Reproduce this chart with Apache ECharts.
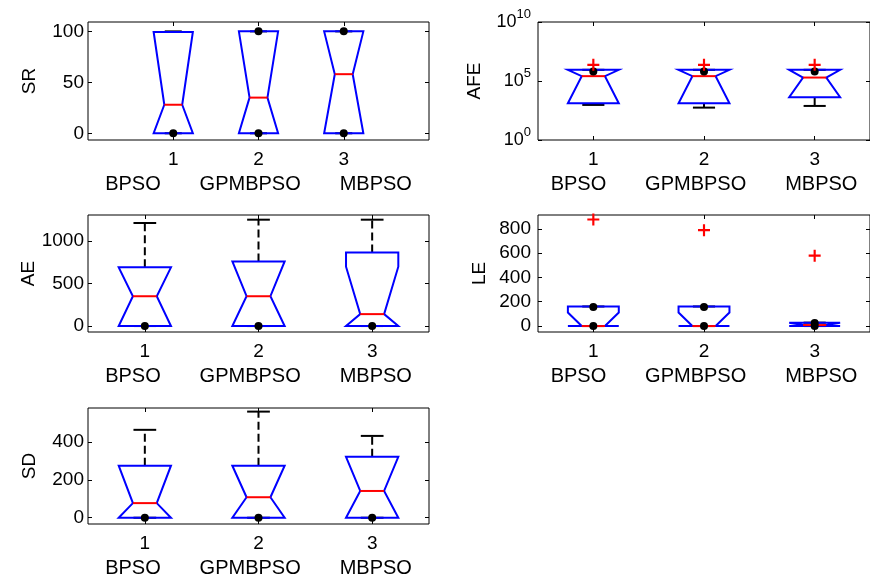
<!DOCTYPE html>
<html>
<head>
<meta charset="utf-8">
<script src="https://cdn.jsdelivr.net/npm/echarts@6/dist/echarts.min.js"></script>
<style>
html, body { margin: 0; padding: 0; background: #fff; }
#chart { width: 870px; height: 579px; }
</style>
</head>
<body>
<div id="chart"></div>
<script>
// Groups and their box positions
const categories = ['BPSO', 'GPMBPSO', 'MBPSO'];
const positions = [1, 2, 3];

// SR: success rate
const srQ1 = [0, 0, 0];
const srMedian = [28, 35, 58];
const srQ3 = [99.4, 100, 100];
const srNotchLo = [0, 0, 0];
const srNotchHi = [99.4, 100, 100];
const srWhiskerLo = [0, 0, 0];
const srWhiskerHi = [100, 100, 100];
const srDots = [[0], [0, 100], [0, 100]];
const srOutliers = [[], [], []];
const srTicks = [0, 50, 100];

// AFE: average function evaluations (log scale)
const afeQ1 = [1310, 1310, 4250];
const afeMedian = [2.58e5, 2.58e5, 1.96e5];
const afeQ3 = [8.85e5, 8.85e5, 8.85e5];
const afeNotchLo = [1310, 1310, 4250];
const afeNotchHi = [8.85e5, 8.85e5, 8.85e5];
const afeWhiskerLo = [940, 555, 770];
const afeWhiskerHi = [8.85e5, 8.85e5, 8.85e5];
const afeDots = [[6.3e5], [6.3e5], [6.3e5]];
const afeOutliers = [[2.35e6], [2.35e6], [2.35e6]];
const afeTicks = [1, 1e5, 1e10];

// AE: average error
const aeQ1 = [0, 0, 0];
const aeMedian = [350, 350, 140];
const aeQ3 = [689, 759, 864];
const aeNotchLo = [0, 0, 0];
const aeNotchHi = [689, 759, 697];
const aeWhiskerLo = [0, 0, 0];
const aeWhiskerHi = [1210, 1249, 1249];
const aeDots = [[0], [0], [0]];
const aeOutliers = [[], [], []];
const aeTicks = [0, 500, 1000];

// LE: least error
const leQ1 = [0, 0, 0];
const leMedian = [0, 0, 8];
const leQ3 = [161, 161, 28];
const leNotchLo = [0, 0, 0];
const leNotchHi = [111, 111, 28];
const leWhiskerLo = [0, 0, 0];
const leWhiskerHi = [161, 161, 28];
const leDots = [[156, 0], [156, 0], [25, 0]];
const leOutliers = [[877], [789], [579]];
const leTicks = [0, 200, 400, 600, 800];

// SD: standard deviation
const sdQ1 = [0, 0, 0];
const sdMedian = [77, 108, 141];
const sdQ3 = [274, 274, 321];
const sdNotchLo = [0, 0, 0];
const sdNotchHi = [274, 274, 321];
const sdWhiskerLo = [0, 0, 0];
const sdWhiskerHi = [463, 559, 431];
const sdDots = [[0], [0], [0]];
const sdOutliers = [[], [], []];
const sdTicks = [0, 200, 400];

const FONT = "'Liberation Sans', Arial, Helvetica, sans-serif";
const FS = 19;
const xLabelText = categories.join(' '.repeat(7));

// Panel layout (pixel rectangles of each axes box) and axis ranges
const panels = [
  { name: 'SR',  grid: { left: 88,  top: 22,  width: 341, height: 118 }, xlim: [0, 4],     ylim: [-6.6, 109.2], log: false, ticks: srTicks,
    q1: srQ1, med: srMedian, q3: srQ3, nLo: srNotchLo, nHi: srNotchHi, wLo: srWhiskerLo, wHi: srWhiskerHi, dots: srDots, out: srOutliers, nameGap: 49, labelMargin: 4 },
  { name: 'AFE', grid: { left: 538, top: 22,  width: 342, height: 118 }, xlim: [0.5, 3.5], ylim: [1, 1e10],      log: true,  ticks: afeTicks,
    q1: afeQ1, med: afeMedian, q3: afeQ3, nLo: afeNotchLo, nHi: afeNotchHi, wLo: afeWhiskerLo, wHi: afeWhiskerHi, dots: afeDots, out: afeOutliers, nameGap: 54, labelMargin: 7 },
  { name: 'AE',  grid: { left: 88,  top: 215, width: 341, height: 117 }, xlim: [0.5, 3.5], ylim: [-70, 1304],    log: false, ticks: aeTicks,
    q1: aeQ1, med: aeMedian, q3: aeQ3, nLo: aeNotchLo, nHi: aeNotchHi, wLo: aeWhiskerLo, wHi: aeWhiskerHi, dots: aeDots, out: aeOutliers, nameGap: 50, labelMargin: 4 },
  { name: 'LE',  grid: { left: 538, top: 215, width: 342, height: 117 }, xlim: [0.5, 3.5], ylim: [-49, 914],     log: false, ticks: leTicks,
    q1: leQ1, med: leMedian, q3: leQ3, nLo: leNotchLo, nHi: leNotchHi, wLo: leWhiskerLo, wHi: leWhiskerHi, dots: leDots, out: leOutliers, nameGap: 49, labelMargin: 7 },
  { name: 'SD',  grid: { left: 88,  top: 408, width: 341, height: 117 }, xlim: [0.5, 3.5], ylim: [-33, 578],     log: false, ticks: sdTicks,
    q1: sdQ1, med: sdMedian, q3: sdQ3, nLo: sdNotchLo, nHi: sdNotchHi, wLo: sdWhiskerLo, wHi: sdWhiskerHi, dots: sdDots, out: sdOutliers, nameGap: 49, labelMargin: 4 }
];

const BOX_HALF = 0.23;    // half box width, in x units
const NOTCH_HALF = 0.105; // half width at the notch waist
const CAP_HALF = 0.1;     // half whisker-cap width

function renderBox(params, api) {
  const x = api.value(0);
  const q1 = api.value(1), med = api.value(2), q3 = api.value(3);
  const nLo = Math.max(api.value(4), q1), nHi = Math.min(api.value(5), q3);
  const wLo = api.value(6), wHi = api.value(7);
  const P = (dx, v) => api.coord([x + dx, v]);
  const seg = (a, b) => ({ x1: a[0], y1: a[1], x2: b[0], y2: b[1] });
  const children = [];
  const dash = { stroke: '#000', lineWidth: 2, lineDash: [8, 4], fill: null };
  const solid = { stroke: '#000', lineWidth: 2, fill: null };
  if (wHi > q3) children.push({ type: 'line', shape: seg(P(0, q3), P(0, wHi)), style: dash });
  if (wLo < q1) children.push({ type: 'line', shape: seg(P(0, q1), P(0, wLo)), style: dash });
  children.push({ type: 'line', shape: seg(P(-CAP_HALF, wHi), P(CAP_HALF, wHi)), style: solid });
  children.push({ type: 'line', shape: seg(P(-CAP_HALF, wLo), P(CAP_HALF, wLo)), style: solid });
  children.push({
    type: 'polygon',
    shape: { points: [
      P(-BOX_HALF, q3), P(-BOX_HALF, nHi), P(-NOTCH_HALF, med), P(-BOX_HALF, nLo), P(-BOX_HALF, q1),
      P(BOX_HALF, q1), P(BOX_HALF, nLo), P(NOTCH_HALF, med), P(BOX_HALF, nHi), P(BOX_HALF, q3)
    ] },
    style: { fill: null, stroke: '#0000ff', lineWidth: 2, lineJoin: 'miter' }
  });
  children.push({ type: 'line', shape: seg(P(-NOTCH_HALF, med), P(NOTCH_HALF, med)), style: { stroke: '#ff0000', lineWidth: 2 } });
  return { type: 'group', children };
}

function supLabel(v) {
  const e = Math.round(Math.log10(v));
  return '{b|10}{s|' + e + '}';
}

const grids = [], xAxes = [], yAxes = [], series = [];
panels.forEach((p, i) => {
  grids.push(Object.assign({ show: true, borderColor: '#000', borderWidth: 1, backgroundColor: 'transparent', containLabel: false }, p.grid));
  const tick = { show: true, inside: true, length: 4, lineStyle: { color: '#000', width: 1 } };
  xAxes.push({
    gridIndex: i, type: 'value', min: p.xlim[0], max: p.xlim[1], position: 'bottom',
    axisLine: { show: false, onZero: false }, splitLine: { show: false },
    axisTick: Object.assign({ customValues: positions }, tick),
    axisLabel: { customValues: positions, color: '#000', fontSize: FS, fontFamily: FONT, margin: 10, formatter: v => String(v) },
    name: xLabelText, nameLocation: 'middle', nameGap: 34,
    nameTextStyle: { color: '#000', fontSize: 20, fontFamily: FONT, verticalAlign: 'top' }
  });
  xAxes.push({
    gridIndex: i, type: 'value', min: p.xlim[0], max: p.xlim[1], position: 'top',
    axisLine: { show: false, onZero: false }, splitLine: { show: false },
    axisTick: Object.assign({ customValues: positions }, tick), axisLabel: { show: false }
  });
  const yBase = p.log ? { type: 'log', logBase: 10 } : { type: 'value' };
  const yLabel = { customValues: p.ticks, color: '#000', fontSize: FS, fontFamily: FONT, margin: p.labelMargin, formatter: v => String(v) };
  if (p.log) {
    yLabel.formatter = supLabel;
    yLabel.rich = {
      b: { fontSize: 18, fontFamily: FONT, color: '#000', height: 30, lineHeight: 30, verticalAlign: 'middle' },
      s: { fontSize: 13, fontFamily: FONT, color: '#000', height: 15, lineHeight: 15, verticalAlign: 'top' }
    };
  }
  yAxes.push(Object.assign({
    gridIndex: i, min: p.ylim[0], max: p.ylim[1], position: 'left',
    axisLine: { show: false, onZero: false }, splitLine: { show: false },
    axisTick: Object.assign({ customValues: p.ticks }, tick), axisLabel: yLabel,
    name: p.name, nameLocation: 'middle', nameRotate: 90, nameGap: p.nameGap,
    nameTextStyle: { color: '#000', fontSize: FS, fontFamily: FONT }
  }, yBase));
  yAxes.push(Object.assign({
    gridIndex: i, min: p.ylim[0], max: p.ylim[1], position: 'right',
    axisLine: { show: false, onZero: false }, splitLine: { show: false },
    axisTick: Object.assign({ customValues: p.ticks }, tick), axisLabel: { show: false }
  }, yBase));

  const boxData = positions.map((x, k) => [x, p.q1[k], p.med[k], p.q3[k], p.nLo[k], p.nHi[k], p.wLo[k], p.wHi[k]]);
  series.push({
    type: 'custom', xAxisIndex: 2 * i, yAxisIndex: 2 * i, renderItem: renderBox,
    data: boxData, z: 2, silent: true, clip: false,
    encode: { x: 0, y: [1, 2, 3] }
  });
  const dotData = [];
  positions.forEach((x, k) => p.dots[k].forEach(v => dotData.push([x, v])));
  series.push({
    type: 'scatter', xAxisIndex: 2 * i, yAxisIndex: 2 * i, data: dotData, z: 3, silent: true,
    symbol: 'circle', symbolSize: 8, itemStyle: { color: '#000', opacity: 1 }
  });
  const outData = [];
  positions.forEach((x, k) => p.out[k].forEach(v => outData.push([x, v])));
  if (outData.length) {
    series.push({
      type: 'scatter', xAxisIndex: 2 * i, yAxisIndex: 2 * i, data: outData, z: 4, silent: true,
      symbol: 'path://M4.1,0H5.9V4.1H10V5.9H5.9V10H4.1V5.9H0V4.1H4.1Z', symbolSize: 12,
      itemStyle: { color: '#ff0000', opacity: 1 }
    });
  }
});

const chart = echarts.init(document.getElementById('chart'), null, { renderer: 'canvas' });
chart.setOption({
  animation: false,
  backgroundColor: '#fff',
  grid: grids,
  xAxis: xAxes,
  yAxis: yAxes,
  series: series
});
</script>
</body>
</html>
